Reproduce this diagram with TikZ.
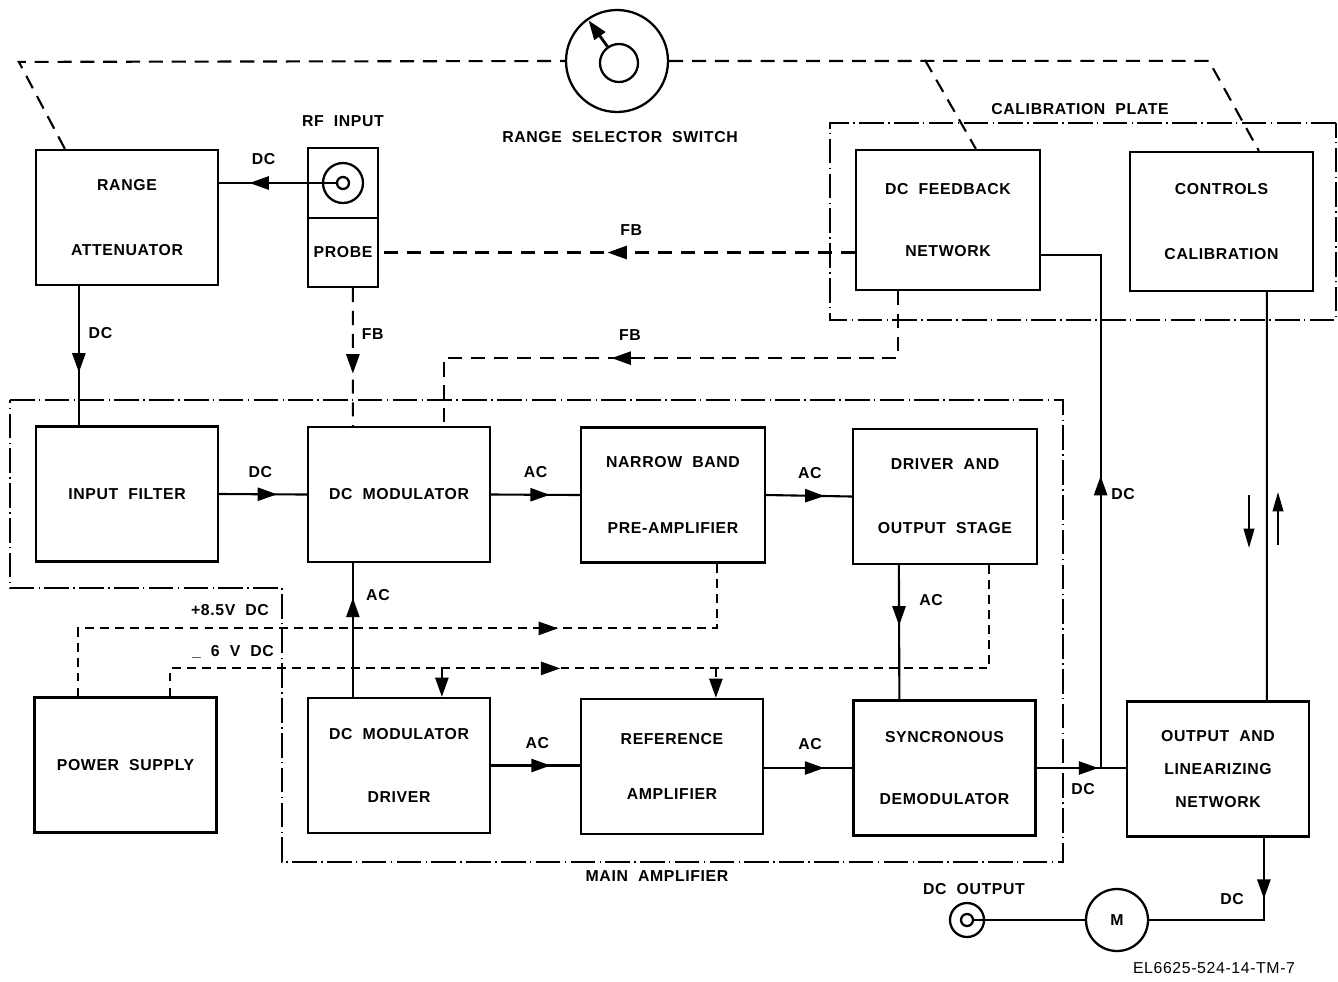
\documentclass[tikz,border=0pt]{standalone}
\usepackage{fontspec}
\setmainfont{Liberation Sans}
\newfontfamily\boxfont[LetterSpace=4,WordSpace=2]{Liberation Sans}
\usetikzlibrary{calc,arrows.meta,decorations.markings}

\begin{document}
\begin{tikzpicture}[
        x=0.02cm, y=-0.02cm,
        >=Stealth,
        block/.style={draw, line width=1.3pt, minimum width=3.64cm, minimum height=2.7cm, align=center, inner sep=0pt, font=\boxfont\bfseries\fontsize{9}{10}\selectfont},
        lbl/.style={inner sep=0pt, font=\boxfont\bfseries\fontsize{9}{10}\selectfont},
        reflbl/.style={inner sep=0pt, font=\boxfont\fontsize{9}{10}\selectfont},
        jack/.style={draw, circle, line width=1.3pt, inner sep=0pt},
        sig/.style={line width=1.2pt},
        fbline/.style={line width=1.2pt, dash pattern=on 8pt off 5pt},
        pwr/.style={line width=1.2pt, dash pattern=on 5pt off 3.5pt},
        plate/.style={line width=0.9pt, dash pattern=on 14pt off 2.5pt on 0.8pt off 2.5pt},
        midarrow/.style={postaction={decorate, decoration={markings, mark=at position #1 with {\arrow{Triangle[length=11pt,width=7.5pt]}}}}}
    ]
        \useasboundingbox (0,0) rectangle (1338,981);

        % Blok atas
        \node[block] (att) at (127,217.5) {RANGE\\[0.95cm]ATTENUATOR};
        \node[draw, line width=1.3pt, minimum width=1.4cm, minimum height=1.4cm] (rf) at (343,183) {};
        \node[block, minimum width=1.4cm, minimum height=1.38cm] (probe) at (343,252.5) {PROBE};
        \node[jack, minimum size=0.8cm] (rfjack) at (rf.center) {};
        \node[jack, minimum size=0.24cm] (rfpin) at (rf.center) {};
        \node[block, minimum width=3.68cm, minimum height=2.8cm] (fbn) at (948,220) {DC FEEDBACK\\[0.89cm]NETWORK};
        \node[block, minimum width=3.66cm, minimum height=2.78cm] (cal) at (1221.5,221.5) {CONTROLS\\[0.95cm]CALIBRATION};

        % Saklar pemilih range
        \node[jack, minimum size=2.04cm] (sw) at (617,61) {};
        \node[jack, minimum size=0.76cm] (swhub) at (619,63) {};
        \draw[line width=1.6pt, -{Triangle[length=11pt,width=7.5pt]}] (swhub.125) -- ($(sw.center)!0.95!(sw.125)$);

        % Blok tengah
        \node[block] (filt) at (127,494) {INPUT FILTER};
        \node[block] (mod) at (399,494.5) {DC MODULATOR};
        \node[block, minimum width=3.68cm] (nba) at (673,495) {NARROW BAND\\[0.97cm]PRE-AMPLIFIER};
        \node[block, minimum width=3.68cm] (drv) at (945,496.5) {DRIVER AND\\[0.93cm]OUTPUT STAGE};

        % Blok bawah
        \node[block] (ps) at (125.5,765) {POWER SUPPLY};
        \node[block] (mdrv) at (399,765.5) {DC MODULATOR\\[0.91cm]DRIVER};
        \node[block] (ref) at (672,766.5) {REFERENCE\\[0.75cm]AMPLIFIER};
        \node[block] (sdem) at (944.5,768) {SYNCRONOUS\\[0.89cm]DEMODULATOR};
        \node[block] (oln) at (1218,769) {OUTPUT AND\\[0.3cm]LINEARIZING\\[0.3cm]NETWORK};

        % Meter dan keluaran
        \node[jack, minimum size=1.24cm, font=\boxfont\bfseries\fontsize{9}{10}\selectfont] (motor) at (1117,920) {M};
        \node[jack, minimum size=0.68cm] (dcout) at (967,920) {};
        \node[jack, minimum size=0.24cm] (dcoutpin) at (dcout.center) {};

        % Bingkai putus-titik
        \draw[plate] (1336,123) -- (830,123) -- (830,320) -- (1336,320) -- cycle;
        \draw[plate] (10,400) -- (1063,400) -- (1063,862) -- (282,862) -- (282,588) -- (10,588) -- cycle;

        % Teks keterangan
        \node[lbl] (rflbl) at (343,121) {RF INPUT};
        \node[lbl] (swlbl) at (620,137) {RANGE SELECTOR SWITCH};
        \node[lbl] (callbl) at (1080,109) {CALIBRATION PLATE};
        \node[lbl] (amplbl) at (657,876) {MAIN AMPLIFIER};
        \node[lbl] (poslbl) at (230,610) {+8.5V DC};
        \node[lbl] (neglbl) at (233,652) {\_ 6 V DC};
        \node[lbl] (outlbl) at (974,889) {DC OUTPUT};
        \node[lbl] (fb2lbl) at (630,335) {FB};
        \node[lbl] (dcuplbl) at (1123,494) {DC};
        \node[lbl] (dcmlbl) at (1232,899) {DC};
        \node[reflbl] (figno) at (1214,968) {EL6625-524-14-TM-7};

        % Hubungan mekanis saklar
        \draw[fbline] ($(att.north west)+(30,0)$) -- ++(-46,-87) -- (sw.west);
        \draw[fbline] (sw.east) -- ($(cal.north west)+(80,-90)$) -- ($(cal.north west)+(130,0)$);
        \draw[fbline] ($(fbn.north west)+(70,-89)$) -- ($(fbn.north west)+(121,0)$);

        % Jalur sinyal
        \draw[sig, midarrow=0.74] (rfpin.west) -- (att.east |- rfpin.west) node[lbl, pos=0.62, above=10pt] {DC};
        \draw[sig, midarrow=0.62] ($(att.south west)+(44,0)$) -- ($(filt.north west)+(44,0)$) node[lbl, pos=0.34, right=5pt] {DC};
        \draw[fbline, midarrow=0.62] ($(probe.south west)+(46,0)$) -- ($(mod.north west)+(46,0)$) node[lbl, pos=0.33, right=4.5pt] {FB};
        \draw[fbline, midarrow=0.52] (fbn.west |- probe.east) -- (probe.east) node[lbl, pos=0.47, above=9pt] {FB};
        \draw[fbline, midarrow=0.6] ($(fbn.south west)+(43,0)$) -- ++(0,67) -| ($(mod.north west)+(137,0)$);
        \draw[sig, midarrow=0.66] (filt.east) -- (mod.west) node[lbl, pos=0.47, above=9pt] {DC};
        \draw[sig, midarrow=0.66] (mod.east) -- (nba.west) node[lbl, pos=0.5, above=9pt] {AC};
        \draw[sig, midarrow=0.68] (nba.east) -- (drv.west) node[lbl, pos=0.51, above=9pt] {AC};
        \draw[sig, midarrow=0.74] ($(mdrv.north west)+(46,0)$) -- ($(mod.south west)+(46,0)$) node[lbl, pos=0.76, right=7pt] {AC};
        \draw[sig, midarrow=0.45] ($(drv.south west)+(47,0)$) -- ($(sdem.north west)+(47,0)$) node[lbl, pos=0.26, right=11pt] {AC};
        \draw[sig, midarrow=0.67] (mdrv.east) -- (ref.west |- mdrv.east) node[lbl, pos=0.52, above=9pt] {AC};
        \draw[sig, midarrow=0.68] (ref.east |- sdem.west) -- (sdem.west) node[lbl, pos=0.52, above=10pt] {AC};
        \draw[sig, midarrow=0.69] (sdem.east) -- (oln.west |- sdem.east) node[lbl, pos=0.52, below=8pt] {DC};
        \coordinate (jn) at ($(sdem.east)+(64,0)$);
        \draw[sig, midarrow=0.51] (jn) |- ($(fbn.east)+(0,35)$);
        \draw[sig] ($(cal.south west)+(138,0)$) -- ($(oln.north west)+(141,0)$);
        \draw[sig, -{Triangle[length=11pt,width=6pt]}] (1249,495) -- (1249,548);
        \draw[sig, -{Triangle[length=11pt,width=6pt]}] (1278,545) -- (1278,492);
        \draw[sig, midarrow=0.31] ($(oln.south west)+(138,0)$) |- (motor.east);
        \draw[sig] (motor.west) -- (dcoutpin.east);

        % Catu daya
        \draw[pwr, midarrow=0.71] ($(ps.north west)+(45,0)$) -- ++(0,-68) -| ($(nba.south west)+(137,0)$);
        \draw[pwr, midarrow=0.44] ($(ps.north west)+(137,0)$) -- ++(0,-28) -| ($(drv.south west)+(137,0)$);
        \draw[pwr, -{Triangle[length=11pt,width=7.5pt]}] ($(mdrv.north west)+(135,-28)$) -- ($(mdrv.north west)+(135,0)$);
        \draw[pwr, -{Triangle[length=11pt,width=7.5pt]}] ($(ref.north west)+(136,-30)$) -- ($(ref.north west)+(136,0)$);

    \end{tikzpicture}
\end{document}
